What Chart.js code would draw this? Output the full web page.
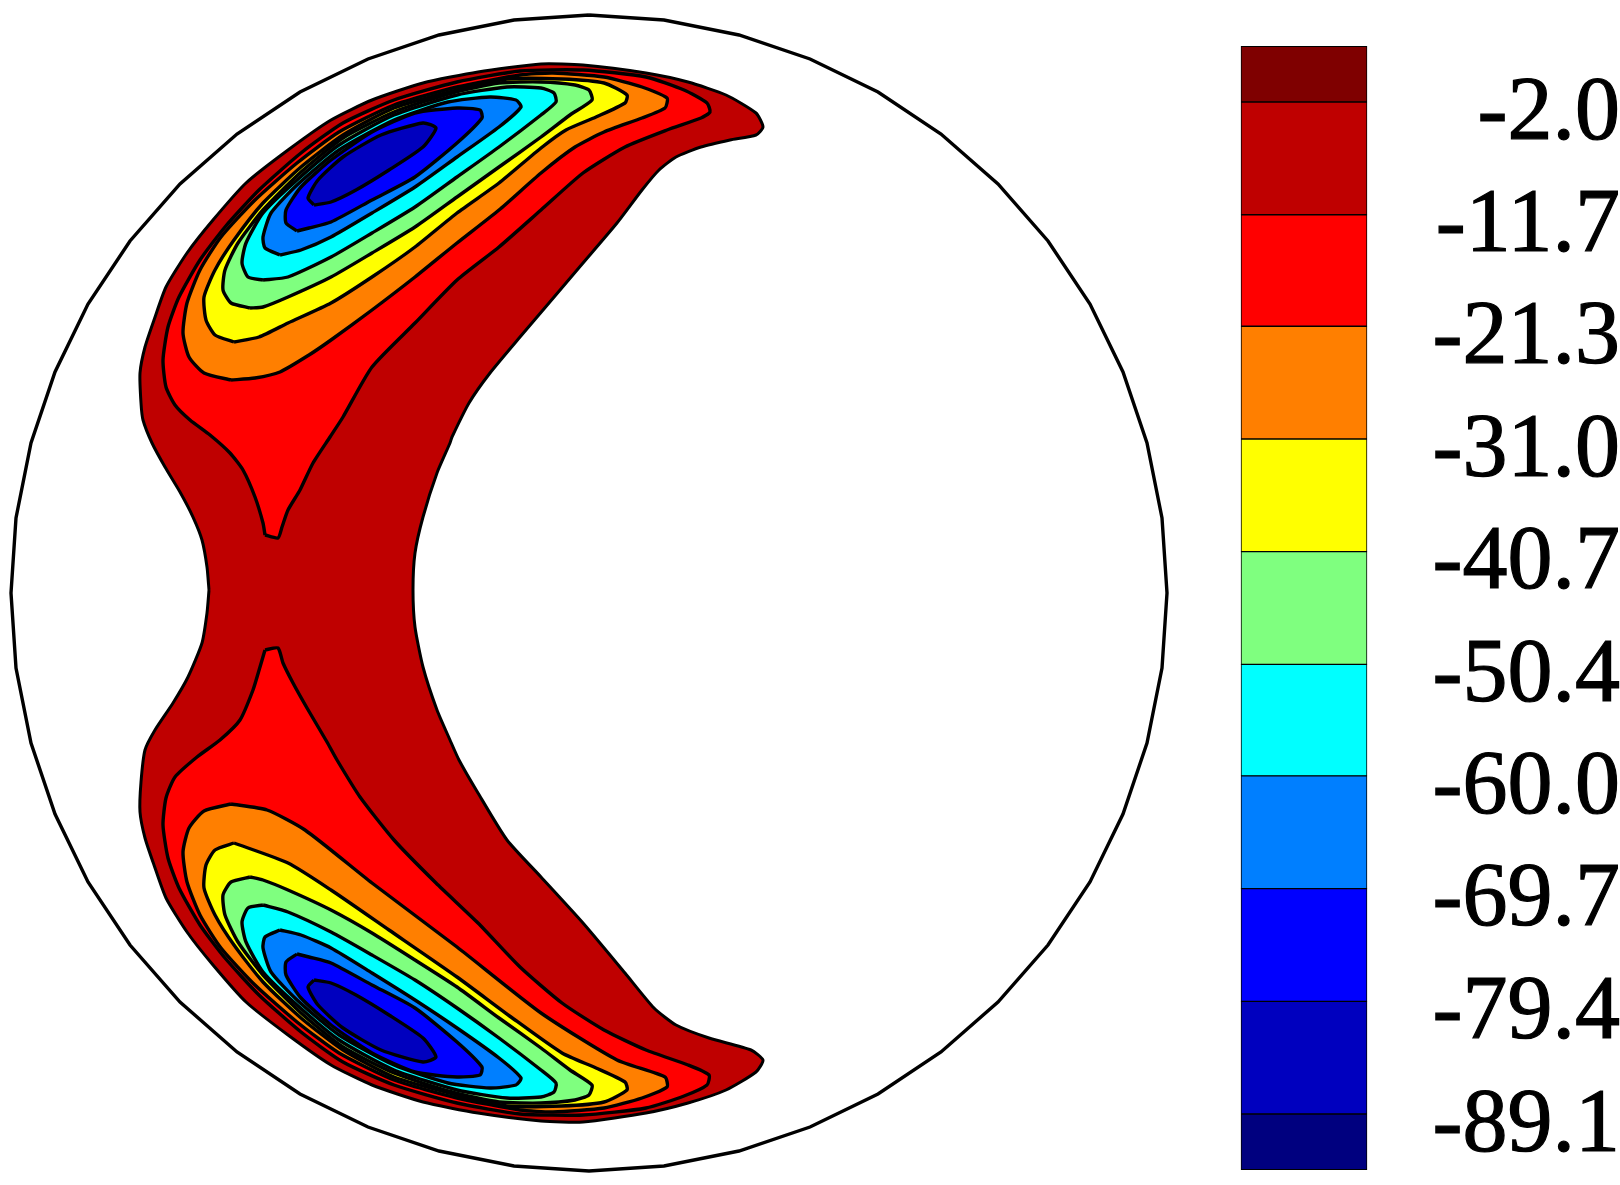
<!DOCTYPE html>
<html>
<head>
<meta charset="utf-8">
<style>
  html, body { margin: 0; padding: 0; background: #fff; }
  canvas { display: block; }
</style>
<script src="https://cdn.jsdelivr.net/npm/chart.js@4/dist/chart.umd.min.js"></script>
</head>
<body>
<canvas id="chart" width="1620" height="1185"></canvas>
<script>
// contour levels shown on the colour bar
const levels = [-2.0, -11.7, -21.3, -31.0, -40.7, -50.4, -60.0, -69.7, -79.4, -89.1];
// band edges of the colour bar, top to bottom
const bandEdges = [2.8, -2.0, -11.7, -21.3, -31.0, -40.7, -50.4, -60.0, -69.7, -79.4, -89.1, -93.9];
const bandColors = ['#7F0000', '#BF0000', '#FF0000', '#FF7F00', '#FFFF00', '#7FFF7F', '#00FFFF', '#007FFF', '#0000FF', '#0000BF', '#00007F'];

// domain boundary
const boundary = [[589,15],[664,20],[739,35],[810,59],[878,92],[941,134],[998,184],[1048,241],[1090,304],[1123,372],[1147,443],[1162,518],[1167,593],
  [1162,668],[1147,743],[1123,814],[1090,882],[1048,945],[998,1002],[941,1052],[878,1094],[810,1127],[739,1151],[664,1166],[589,1171],
  [514,1166],[439,1151],[368,1127],[300,1094],[237,1052],[180,1002],[130,945],[88,882],[55,814],[31,743],[16,668],[11,593],
  [16,518],[31,443],[55,372],[88,304],[130,241],[180,184],[237,134],[300,92],[368,59],[439,35],[514,20]];

// level -2.0, one closed outline around both lobes
const outer = [[209,590],[207,567],[202,540],[193,517],[180,492],[165,467],[152,443],[143,420],[141,403],[140,373],[145,347],[154,320],[166,287],[187,253],[213,220],[246,183],[288,150],[331,120],[372,100],[423,83],[478,72],[541,64],[583,65],[646,73],[688,82],[726,95],[756,113],[763,127],[756,135],[730,140],[701,147],[676,157],[659,170],[642,190],[617,223],[583,263],[549,303],[520,337],[490,373],[469,403],[452,437],[450,443],[437,473],[423,517],[415,553],[413,590],
  [415,627],[423,667],[437,710],[450,740],[459,760],[478,793],[507,840],[541,877],[583,923],[625,973],[654,1008],[676,1025],[709,1038],[751,1050],[763,1060],[756,1072],[726,1090],[688,1103],[646,1113],[583,1122],[541,1121],[478,1113],[423,1102],[372,1085],[331,1065],[288,1035],[246,1002],[213,965],[187,932],[166,898],[154,865],[145,838],[140,812],[141,782],[145,750],[155,730],[173,703],[188,677],[202,643],[207,613]];

// level -11.7
const redTop = [[265,535],[263,523],[255,497],[243,470],[230,453],[210,435],[190,420],[175,405],[166,387],[163,360],[168,327],[179,297],[200,260],[225,227],[259,190],[301,153],[343,123],[394,100],[457,82],[520,71],[583,70],[646,77],[684,90],[707,103],[710,112],[701,118],[667,130],[625,147],[583,173],[541,210],[499,247],[457,280],[415,323],[372,367],[343,417],[330,437],[313,463],[300,490],[288,510],[282,527],[278,538]];
const redBottom = [[265,650],[278,648],[283,663],[293,683],[307,708],[327,742],[337,760],[360,797],[394,840],[436,883],[478,923],[520,967],[562,1003],[604,1030],[646,1050],[688,1065],[709,1075],[707,1085],[684,1096],[646,1108],[583,1115],[520,1114],[457,1103],[394,1085],[343,1062],[301,1032],[259,995],[225,958],[200,925],[179,888],[168,858],[163,825],[166,798],[175,777],[197,757],[220,740],[240,720],[253,690],[260,667]];

// level -21.3
const orangeTop = [[231,380],[204,373],[189,357],[183,333],[187,303],[200,270],[221,237],[255,200],[297,163],[339,132],[394,105],[457,87],[520,75],[553,73],[604,77],[642,87],[667,98],[665,108],[642,118],[604,132],[575,147],[541,173],[499,210],[457,243],[415,277],[372,310],[331,340],[309,355],[280,372],[255,378]];
const orangeBottom = [[231,804],[204,811],[189,828],[183,852],[187,882],[200,915],[221,948],[255,985],[297,1022],[339,1053],[394,1080],[457,1098],[520,1110],[553,1112],[604,1108],[642,1098],[667,1087],[665,1077],[617,1060],[541,1013],[457,947],[372,883],[305,830],[267,810]];

// level -31.0
const yellowTop = [[234,342],[215,335],[206,320],[204,297],[215,270],[234,240],[263,203],[301,167],[343,135],[394,108],[457,90],[507,79],[562,79],[604,83],[627,95],[625,103],[596,117],[566,130],[541,148],[499,183],[457,213],[415,247],[372,277],[331,303],[288,323],[259,337]];
const yellowBottom = [[234,843],[215,850],[206,865],[204,888],[215,915],[234,945],[263,982],[301,1018],[343,1050],[394,1077],[457,1095],[507,1106],[562,1106],[604,1102],[627,1090],[625,1082],[596,1068],[562,1053],[511,1017],[457,977],[389,930],[331,890],[288,863]];

// level -40.7
const greenTop = [[250,308],[231,303],[223,290],[225,270],[238,243],[263,210],[301,172],[343,138],[394,112],[452,93],[499,83],[541,82],[575,85],[589,90],[592,100],[570,115],[541,137],[499,167],[457,197],[415,227],[372,253],[331,277],[288,297],[263,307]];
const greenBottom = [[250,877],[231,882],[223,895],[225,915],[238,942],[263,975],[301,1013],[343,1047],[394,1073],[452,1092],[499,1102],[541,1103],[575,1100],[589,1095],[592,1085],[570,1070],[541,1048],[499,1018],[457,987],[415,960],[372,933],[331,910],[288,890],[263,880]];

// level -50.4
const cyanTop = [[263,280],[248,277],[242,263],[246,243],[263,213],[297,180],[339,145],[394,115],[457,95],[507,87],[541,88],[554,93],[556,102],[541,115],[499,147],[457,177],[415,207],[372,233],[331,257],[288,277]];
const cyanBottom = [[263,905],[248,908],[242,922],[246,942],[263,972],[297,1005],[339,1040],[394,1070],[457,1090],[507,1098],[541,1097],[554,1092],[556,1083],[541,1070],[499,1038],[457,1008],[415,980],[372,955],[331,932],[288,912]];

// level -60.0
const azureTop = [[280,255],[265,248],[263,237],[271,213],[297,185],[339,150],[394,120],[448,102],[490,97],[516,100],[521,107],[499,127],[457,157],[415,187],[372,213],[331,237],[301,250]];
const azureBottom = [[280,930],[265,937],[263,948],[271,972],[297,1000],[339,1035],[394,1065],[448,1083],[490,1088],[516,1085],[521,1078],[499,1058],[457,1028],[415,1000],[372,973],[331,948],[301,935]];

// level -69.7
const blueTop = [[297,231],[286,223],[286,210],[301,187],[331,160],[372,132],[415,113],[457,108],[480,110],[482,118],[457,143],[415,177],[372,200],[331,222],[309,228]];
const blueBottom = [[297,954],[286,962],[286,975],[301,998],[331,1025],[372,1053],[415,1072],[457,1077],[480,1075],[482,1067],[457,1042],[415,1008],[372,985],[331,963],[309,957]];

// level -79.4
const coreTop = [[314,205],[308,198],[318,180],[343,157],[381,135],[423,123],[436,128],[423,147],[389,170],[356,190],[331,202]];
const coreBottom = [[314,980],[308,987],[318,1005],[343,1028],[381,1050],[423,1062],[436,1057],[423,1038],[389,1015],[356,995],[331,983]];

const toPoints = outline => [...outline, outline[0]].map(([x, y]) => ({x, y}));

const contour = (outline, color, width) => ({
    type: 'line',
    data: toPoints(outline),
    backgroundColor: color,
    borderColor: '#000',
    borderWidth: width,
    borderJoinStyle: 'round',
    fill: 'shape',
    tension: 0.2,
    pointRadius: 0,
    xAxisID: 'x',
    yAxisID: 'y'
});

// chart.js paints the first dataset last, so the innermost level goes first
const datasets = [
    contour(coreTop, bandColors[9], 3.4), contour(coreBottom, bandColors[9], 3.4),
    contour(blueTop, bandColors[8], 3.4), contour(blueBottom, bandColors[8], 3.4),
    contour(azureTop, bandColors[7], 3.4), contour(azureBottom, bandColors[7], 3.4),
    contour(cyanTop, bandColors[6], 3.4), contour(cyanBottom, bandColors[6], 3.4),
    contour(greenTop, bandColors[5], 3.4), contour(greenBottom, bandColors[5], 3.4),
    contour(yellowTop, bandColors[4], 3.4), contour(yellowBottom, bandColors[4], 3.4),
    contour(orangeTop, bandColors[3], 3.4), contour(orangeBottom, bandColors[3], 3.4),
    contour(redTop, bandColors[2], 3.4), contour(redBottom, bandColors[2], 3.4),
    contour(outer, bandColors[1], 3),
    {
        type: 'line',
        data: toPoints(boundary),
        borderColor: '#000',
        borderWidth: 3.4,
        fill: false,
        tension: 0,
        pointRadius: 0,
        xAxisID: 'x',
        yAxisID: 'y'
    },
    {
        type: 'bar',
        data: bandColors.map((c, i) => ({x: 1304, y: [bandEdges[i + 1], bandEdges[i]]})),
        backgroundColor: bandColors,
        borderColor: '#000',
        borderWidth: 1,
        borderSkipped: false,
        barThickness: 126,
        xAxisID: 'x',
        yAxisID: 'yBar'
    }
];

new Chart(document.getElementById('chart'), {
    type: 'line',
    data: {datasets},
    options: {
        responsive: false,
        devicePixelRatio: 1,
        animation: false,
        layout: {padding: 0},
        plugins: {legend: {display: false}, tooltip: {enabled: false}},
        scales: {
            x: {type: 'linear', min: 0, max: 1370, offset: false, display: false},
            y: {type: 'linear', min: 0, max: 1185, reverse: true, display: false},
            yBar: {
                type: 'linear',
                axis: 'y',
                position: 'right',
                min: -95.21,
                max: 6.78,
                grid: {display: false, drawTicks: false},
                border: {display: false},
                afterFit: scale => {
                    // big labels must not shrink the plot area
                    scale.width = 250;
                    scale.paddingTop = 0;
                    scale.paddingBottom = 0;
                },
                afterBuildTicks: scale => { scale.ticks = levels.map(value => ({value})); },
                ticks: {
                    autoSkip: false,
                    crossAlign: 'far',
                    padding: 56,
                    labelOffset: 13,
                    color: '#000',
                    textStrokeColor: '#000',
                    textStrokeWidth: 1.2,
                    font: {family: '"Liberation Serif"', size: 90},
                    callback: value => value.toFixed(1)
                }
            }
        }
    }
});
</script>
</body>
</html>
